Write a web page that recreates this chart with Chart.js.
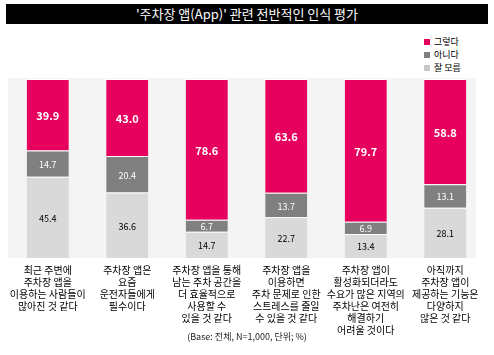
<!DOCTYPE html>
<html><head><meta charset="utf-8">
<script src="https://cdn.jsdelivr.net/npm/chart.js@4"></script>
<style>
html,body{margin:0;padding:0;background:#fff;}
#wrap{position:relative;width:494px;height:355px;font-family:"Noto Sans CJK KR","Noto Sans",sans-serif;}
#title{position:absolute;left:6px;top:4px;width:482px;height:20px;background:#000;color:#fff;font-size:13px;line-height:20px;text-align:center;}
#legend{position:absolute;left:424px;top:35px;font-size:9px;color:#000;}
#legend div{height:13px;line-height:13px;white-space:nowrap;}
#legend span{display:inline-block;width:6px;height:6px;margin-right:4px;vertical-align:0px;}
#note{position:absolute;left:0;width:494px;top:330px;text-align:center;font-size:9px;color:#222;}
canvas{position:absolute;left:0;top:0;}
</style></head>
<body><div id="wrap">
<div id="title">'주차장 앱(App)' 관련 전반적인 인식 평가</div>
<div id="legend"></div>
<canvas id="c" width="494" height="355"></canvas>
<div id="note">(Base: 전체, N=1,000, 단위; %)</div>
</div>
<script>
const categories = [
  ["최근 주변에","주차장 앱을","이용하는 사람들이","많아진 것 같다"],
  ["주차장 앱은","요즘","운전자들에게","필수이다"],
  ["주차장 앱을 통해","남는 주차 공간을","더 효율적으로","사용할 수","있을 것 같다"],
  ["주차장 앱을","이용하면","주차 문제로 인한","스트레스를 줄일","수 있을 것 같다"],
  ["주차장 앱이","활성화되더라도","수요가 많은 지역의","주차난은 여전히","해결하기","어려울 것이다"],
  ["아직까지","주차장 앱이","제공하는 기능은","다양하지","않은 것 같다"]
];
const yes = [39.9, 43.0, 78.6, 63.6, 79.7, 58.8];
const no = [14.7, 20.4, 6.7, 13.7, 6.9, 13.1];
const dunno = [45.4, 36.6, 14.7, 22.7, 13.4, 28.1];
const seriesNames = ["그렇다", "아니다", "잘 모름"];
const colors = ["#e8005e", "#808080", "#d9d9d9"];
const legendColors = ["#e8005e", "#808080", "#c8c8c8"];

const leg = document.getElementById('legend');
seriesNames.forEach((n,i)=>{
  const d=document.createElement('div');
  d.innerHTML='<span style="background:'+legendColors[i]+'"></span>'+n;
  leg.appendChild(d);
});

const bgPlugin = {
  id:'bg',
  beforeDatasetsDraw(chart){
    const {ctx, chartArea:a} = chart;
    ctx.save();
    ctx.fillStyle='#f4f4f4';
    ctx.fillRect(a.left, a.top-1, a.right-a.left-9, a.bottom-a.top+1);
    ctx.restore();
  }
};
const labelPlugin = {
  id:'vals',
  afterDatasetsDraw(chart){
    const ctx = chart.ctx;
    ctx.save();
    ctx.textAlign='center';
    ctx.textBaseline='middle';
    chart.data.datasets.forEach((ds,di)=>{
      const meta = chart.getDatasetMeta(di);
      meta.data.forEach((bar,i)=>{
        const v = ds.data[i];
        const y = (bar.y + bar.base)/2;
        if (ds.label==='그렇다'){ ctx.fillStyle='#fff'; ctx.font='bold 11px "Noto Sans CJK KR", sans-serif'; }
        else if (ds.label==='아니다'){ ctx.fillStyle='#fff'; ctx.font='9px "Noto Sans CJK KR", sans-serif'; }
        else { ctx.fillStyle='#000'; ctx.font='9px "Noto Sans CJK KR", sans-serif'; }
        ctx.fillText(v.toFixed(1), bar.x, y+1);
      });
    });
    ctx.restore();
  }
};

new Chart(document.getElementById('c'), {
  type:'bar',
  data:{
    labels: categories,
    datasets:[
      {label:seriesNames[2], data:dunno, backgroundColor:colors[2]},
      {label:seriesNames[1], data:no, backgroundColor:colors[1]},
      {label:seriesNames[0], data:yes, backgroundColor:colors[0]}
    ].map(d=>Object.assign(d,{borderColor:'#fff', borderWidth:{top:1,bottom:0,left:0,right:0}, borderSkipped:false, categoryPercentage:1, barPercentage:0.53}))
  },
  options:{
    responsive:false, animation:false,
    layout:{padding:{left:8, right:9, top:79, bottom:0}},
    plugins:{legend:{display:false}, tooltip:{enabled:false}},
    scales:{
      x:{stacked:true, grid:{display:false, drawTicks:false}, border:{display:false},
         ticks:{color:'#000', padding:6, maxRotation:0, autoSkip:false, font:{family:'"Noto Sans CJK KR", sans-serif', size:10, lineHeight:1.2}},
         afterFit(s){ s.height = 97; }},
      y:{stacked:true, display:false, min:0, max:100}
    }
  },
  plugins:[bgPlugin, labelPlugin]
});
</script>
</body></html>
